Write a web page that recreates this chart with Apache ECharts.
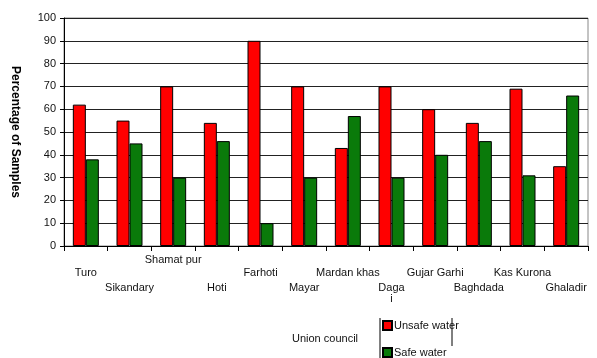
<!DOCTYPE html>
<html>
<head>
<meta charset="utf-8">
<script src="https://cdn.jsdelivr.net/npm/echarts@6/dist/echarts.min.js"></script>
<style>
  html, body { margin: 0; padding: 0; background: #fff; }
  #chart { width: 597px; height: 358px; }
</style>
</head>
<body>
<div id="chart"></div>
<script>
  // data
  const councils = ['Turo', 'Sikandary', 'Shamat pur', 'Hoti', 'Farhoti', 'Mayar',
    'Mardan khas', 'Daga\ni', 'Gujar Garhi', 'Baghdada', 'Kas Kurona', 'Ghaladir'];
  const unsafeWater = [62, 55, 70, 54, 90, 70, 43, 70, 60, 54, 69, 35];
  const safeWater = [38, 45, 30, 46, 10, 30, 57, 30, 40, 46, 31, 66];
  const yTicks = [0, 10, 20, 30, 40, 50, 60, 70, 80, 90, 100];

  // which staggered row each x label sits on
  const labelRow = [1, 2, 0, 2, 1, 2, 1, 2, 1, 2, 1, 2];

  const chart = echarts.init(document.getElementById('chart'));
  const font = 'Liberation Sans, Arial, sans-serif';

  const legendItem = (name, top) => ({
    orient: 'vertical',
    left: 382,
    top,
    icon: 'rect',
    itemWidth: 9,
    itemHeight: 9,
    padding: 0,
    textStyle: { fontSize: 11, color: '#111', padding: [0, 0, 0, -3] },
    data: [name]
  });

  const option = {
    animation: false,
    textStyle: { fontFamily: font },
    grid: {
      left: 64, right: 9, top: 18, bottom: 112,
      show: true, borderColor: '#888', borderWidth: 1
    },
    xAxis: {
      type: 'category',
      data: councils,
      axisLine: { lineStyle: { color: '#000', width: 1 } },
      axisTick: { show: true, length: 5, lineStyle: { color: '#000' } },
      axisLabel: {
        interval: 0,
        margin: 8,
        color: '#111',
        fontSize: 11,
        formatter: (v, i) => {
          const parts = v.split('\n');
          return parts.map((p, k) => k === 0 ? `{r${labelRow[i]}|${p}}` : `{c|${p}}`).join('\n');
        },
        rich: {
          r0: { fontSize: 11, padding: [0, 0, 0, 0] },
          r1: { fontSize: 11, padding: [13, 0, 0, 0] },
          r2: { fontSize: 11, padding: [28, 0, 0, 0] },
          c: { fontSize: 11, lineHeight: 11 }
        }
      }
    },
    yAxis: {
      type: 'value',
      min: yTicks[0],
      max: yTicks[yTicks.length - 1],
      interval: 10,
      name: 'Percentage of Samples',
      nameLocation: 'middle',
      nameRotate: -90,
      nameGap: 43,
      nameTextStyle: { fontSize: 12, fontWeight: 'bold', color: '#000' },
      axisLine: { show: true, lineStyle: { color: '#000' } },
      axisTick: { show: true, length: 4, lineStyle: { color: '#000' } },
      axisLabel: { color: '#111', fontSize: 11, margin: 8 },
      splitLine: { lineStyle: { color: '#222', width: 1 } }
    },
    legend: [
      legendItem('Unsafe water', 320),
      legendItem('Safe water', 347)
    ],
    graphic: [
      { type: 'line', shape: { x1: 380, y1: 318, x2: 380, y2: 358 }, style: { stroke: '#000', lineWidth: 1 } },
      { type: 'line', shape: { x1: 452, y1: 318, x2: 452, y2: 346 }, style: { stroke: '#000', lineWidth: 1 } },
      { type: 'text', left: 292, top: 333, style: { text: 'Union council', fontSize: 11, fill: '#111', fontFamily: font } }
    ],
    series: [
      {
        name: 'Unsafe water',
        type: 'bar',
        data: unsafeWater,
        barWidth: 13,
        barGap: '0%',
        itemStyle: { color: '#ff0000', borderColor: '#000', borderWidth: 1 }
      },
      {
        name: 'Safe water',
        type: 'bar',
        data: safeWater,
        barWidth: 13,
        barGap: '0%',
        itemStyle: { color: '#0a7a0a', borderColor: '#000', borderWidth: 1 }
      }
    ]
  };

  chart.setOption(option);
</script>
</body>
</html>
